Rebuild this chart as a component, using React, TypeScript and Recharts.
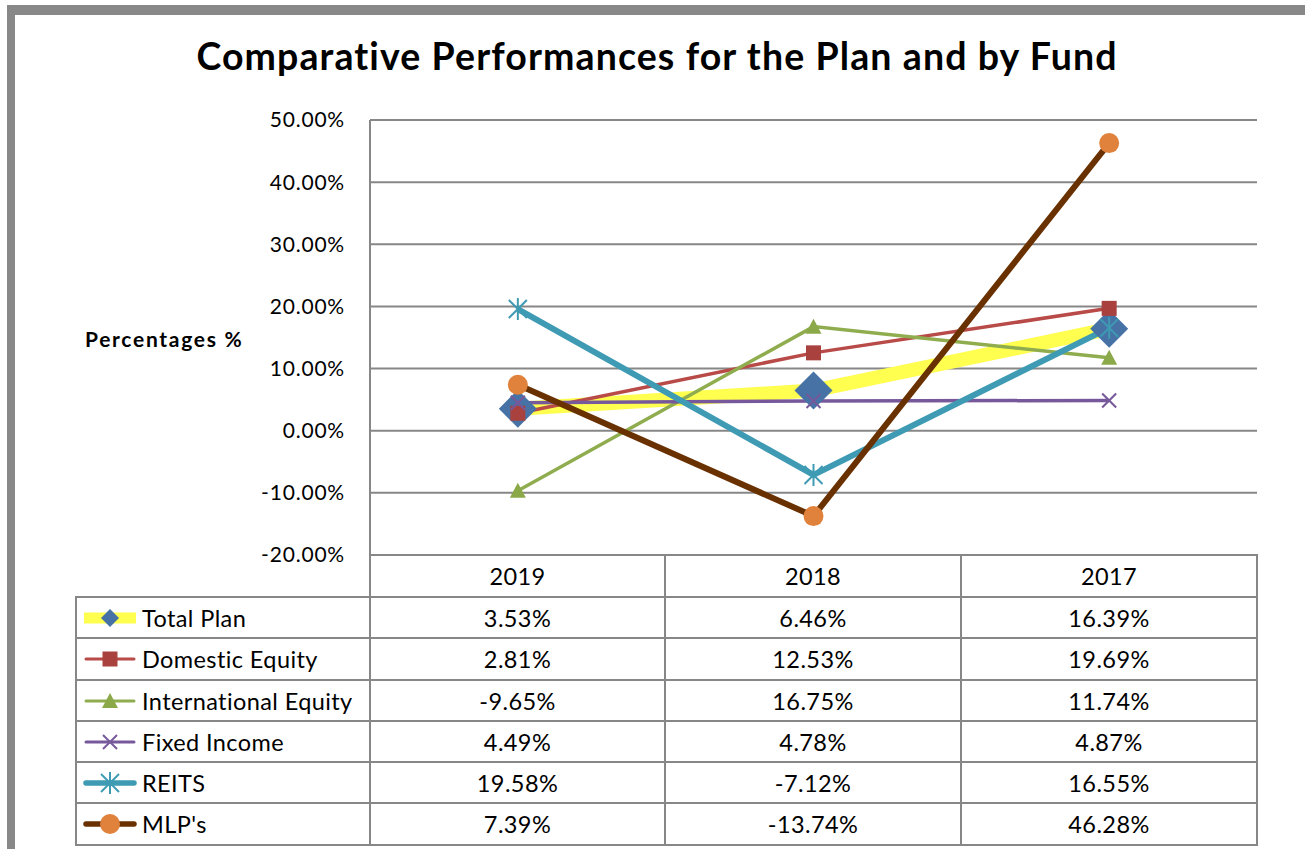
import React from 'react';
import { LineChart, Line, XAxis, YAxis, CartesianGrid } from 'recharts';

const years = ['2019', '2018', '2017'];
const totalPlan = [3.53, 6.46, 16.39];
const domesticEquity = [2.81, 12.53, 19.69];
const internationalEquity = [-9.65, 16.75, 11.74];
const fixedIncome = [4.49, 4.78, 4.87];
const reits = [19.58, -7.12, 16.55];
const mlps = [7.39, -13.74, 46.28];
const yTicks = [-20, -10, 0, 10, 20, 30, 40, 50];

const FONT = 'Lato, "Open Sans", sans-serif';
const GRID = '#878787';

type MarkerType = 'diamond' | 'square' | 'triangle' | 'x' | 'star' | 'circle';

interface Series {
  key: string;
  name: string;
  values: number[];
  stroke: string;
  width: number;
  marker: MarkerType;
  markerColor: string;
}

const series: Series[] = [
  { key: 'total', name: 'Total Plan', values: totalPlan, stroke: '#FFFF50', width: 14, marker: 'diamond', markerColor: '#4672A6' },
  { key: 'domestic', name: 'Domestic Equity', values: domesticEquity, stroke: '#B84A48', width: 3.5, marker: 'square', markerColor: '#A9423F' },
  { key: 'intl', name: 'International Equity', values: internationalEquity, stroke: '#8FAD4E', width: 3.5, marker: 'triangle', markerColor: '#8CA94A' },
  { key: 'fixed', name: 'Fixed Income', values: fixedIncome, stroke: '#77599B', width: 3.5, marker: 'x', markerColor: '#77599B' },
  { key: 'reits', name: 'REITS', values: reits, stroke: '#3E9BB3', width: 6, marker: 'star', markerColor: '#3E9BB3' },
  { key: 'mlp', name: "MLP's", values: mlps, stroke: '#6A3100', width: 6, marker: 'circle', markerColor: '#E0823B' },
];

const data = years.map((year, i) => {
  const row: Record<string, string | number> = { year };
  series.forEach((s) => {
    row[s.key] = s.values[i];
  });
  return row;
});

const fmt = (v: number) => `${v.toFixed(2)}%`;

function Marker({ type, cx, cy, color, big = true }: { type: MarkerType; cx: number; cy: number; color: string; big?: boolean }) {
  switch (type) {
    case 'diamond': {
      const r = big ? 19 : 9;
      return <polygon points={`${cx},${cy - r} ${cx + r},${cy} ${cx},${cy + r} ${cx - r},${cy}`} fill={color} />;
    }
    case 'square':
      return <rect x={cx - 7.5} y={cy - 7.5} width={15} height={15} fill={color} />;
    case 'triangle':
      return <polygon points={`${cx},${cy - 8} ${cx + 8},${cy + 7} ${cx - 8},${cy + 7}`} fill={color} />;
    case 'x':
      return (
        <g stroke={color} strokeWidth={2}>
          <line x1={cx - 7} y1={cy - 7} x2={cx + 7} y2={cy + 7} />
          <line x1={cx - 7} y1={cy + 7} x2={cx + 7} y2={cy - 7} />
        </g>
      );
    case 'star':
      return (
        <g stroke={color} strokeWidth={2}>
          <line x1={cx - 9} y1={cy - 9} x2={cx + 9} y2={cy + 9} />
          <line x1={cx - 9} y1={cy + 9} x2={cx + 9} y2={cy - 9} />
          <line x1={cx} y1={cy - 11} x2={cx} y2={cy + 11} />
        </g>
      );
    case 'circle':
      return <circle cx={cx} cy={cy} r={10} fill={color} />;
  }
  return null;
}

function LegendIcon({ s }: { s: Series }) {
  const lw = s.key === 'total' ? 11 : s.width >= 6 ? 5.5 : 3;
  return (
    <svg width={56} height={24} style={{ display: 'block' }}>
      <line x1={s.key === 'total' ? 2 : 4} y1={12} x2={s.key === 'total' ? 54 : 52} y2={12} stroke={s.stroke} strokeWidth={lw} strokeLinecap={s.key === 'total' ? 'butt' : 'round'} />
      <Marker type={s.marker} cx={28} cy={12} color={s.markerColor} big={false} />
    </svg>
  );
}

const colX = [76, 370, 665, 961, 1257];
const rowY = [555, 597, 638, 680, 721, 762, 803, 845];

function Cell({ r, c, children, align = 'center' }: { r: number; c: number; children: React.ReactNode; align?: 'center' | 'left' }) {
  return (
    <div
      style={{
        position: 'absolute',
        left: colX[c] - 1,
        top: rowY[r] - 1,
        width: colX[c + 1] - colX[c] + 2,
        height: rowY[r + 1] - rowY[r] + 2,
        boxSizing: 'border-box',
        border: `2px solid ${GRID}`,
        display: 'flex',
        alignItems: 'center',
        justifyContent: align === 'center' ? 'center' : 'flex-start',
        fontFamily: FONT,
        fontSize: 23.5,
        letterSpacing: 0.4,
        color: '#000',
        whiteSpace: 'nowrap',
      }}
    >
      {children}
    </div>
  );
}

export default function App() {
  return (
    <div style={{ position: 'fixed', left: 0, top: 0, width: 1305, height: 849, overflow: 'hidden', background: '#fff' }}>
      <div
        style={{
          position: 'absolute',
          left: 7,
          top: 5,
          width: 1310,
          height: 900,
          boxSizing: 'border-box',
          borderLeft: '8px solid #888',
          borderTop: '10px solid #888',
          borderRight: '8px solid #888',
        }}
      />
      <div
        style={{
          position: 'absolute',
          left: 15,
          width: 1284,
          top: 33,
          textAlign: 'center',
          fontFamily: FONT,
          fontWeight: 700,
          fontSize: 37.5,
          letterSpacing: 1.1,
          color: '#000',
        }}
      >
        Comparative Performances for the Plan and by Fund
      </div>
      <div
        style={{
          position: 'absolute',
          left: 85,
          top: 326,
          fontFamily: FONT,
          fontWeight: 700,
          fontSize: 21,
          letterSpacing: 1.7,
          color: '#000',
        }}
      >
        Percentages %
      </div>
      <div style={{ position: 'absolute', left: 0, top: 0 }}>
        <LineChart width={1305} height={600} data={data} margin={{ top: 120, right: 48, bottom: 45, left: 270 }}>
          <CartesianGrid horizontal vertical={false} stroke={GRID} strokeWidth={2} />
          <XAxis dataKey="year" scale="band" hide />
          <YAxis
            width={100}
            domain={[-20, 50]}
            ticks={yTicks}
            interval={0}
            tickFormatter={fmt}
            axisLine={{ stroke: GRID, strokeWidth: 2 }}
            tickLine={false}
            tickSize={0}
            tickMargin={25}
            tick={{ fill: '#000', fontSize: 21, fontFamily: FONT, letterSpacing: 0.8 }}
          />
          {series.map((s) => (
            <Line
              key={s.key}
              dataKey={s.key}
              name={s.name}
              stroke={s.stroke}
              strokeWidth={s.width}
              isAnimationActive={false}
              activeDot={false}
              dot={(p: any) => <Marker key={`${s.key}-${p.index}`} type={s.marker} cx={p.cx} cy={p.cy} color={s.markerColor} />}
            />
          ))}
        </LineChart>
      </div>
      {years.map((y, i) => (
        <Cell key={`h-${y}`} r={0} c={i + 1}>
          {y}
        </Cell>
      ))}
      {series.map((s, r) => (
        <React.Fragment key={`row-${s.key}`}>
          <Cell r={r + 1} c={0} align="left">
            <div style={{ marginLeft: 5, marginRight: 4 }}>
              <LegendIcon s={s} />
            </div>
            {s.name}
          </Cell>
          {s.values.map((v, c) => (
            <Cell key={`${s.key}-${c}`} r={r + 1} c={c + 1}>
              {fmt(v)}
            </Cell>
          ))}
        </React.Fragment>
      ))}
    </div>
  );
}
